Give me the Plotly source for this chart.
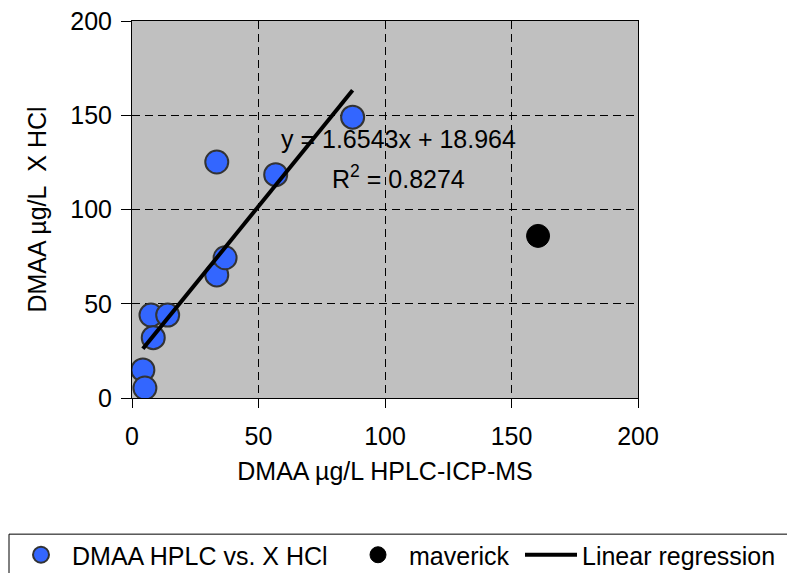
import plotly.graph_objects as go

# DMAA measured by HPLC-ICP-MS vs. X HCl method (µg/L)
hplc_x = [4.3, 5.1, 7.5, 14.1, 8.4, 33.5, 36.8, 33.5, 56.8, 87.2]
hcl_y = [14.9, 5.3, 44.0, 44.0, 32.0, 65.3, 74.4, 125.2, 118.5, 149.0]

# Outlier excluded from the fit
maverick_x = [160.5]
maverick_y = [86.0]

# Linear regression of the main series
slope = 1.6543
intercept = 18.964
r_squared = 0.8274

x_ticks = [0, 50, 100, 150, 200]
y_ticks = [0, 50, 100, 150, 200]

FONT = "Liberation Sans, Arial, sans-serif"
FS = 25

fit_x = [min(hplc_x), max(hplc_x)]
fit_y = [slope * v + intercept for v in fit_x]

fig = go.Figure()

fig.add_trace(go.Scatter(
    x=hplc_x, y=hcl_y, mode="markers", name="DMAA HPLC vs. X HCl",
    marker=dict(size=23, color="#3366FF", line=dict(color="#333333", width=2)),
    legend="legend",
))
fig.add_trace(go.Scatter(
    x=maverick_x, y=maverick_y, mode="markers", name="maverick",
    marker=dict(size=23, color="black", line=dict(color="black", width=1)),
    legend="legend2",
))
# fitted line drawn over the markers
fig.add_trace(go.Scatter(
    x=fit_x, y=fit_y, mode="lines", name="Linear regression",
    line=dict(color="black", width=4), legend="legend3",
))

# regression equation
fig.add_annotation(
    x=105.2, y=137.2, xref="x", yref="y", showarrow=False,
    text=f"y = {slope}x + {intercept}",
    font=dict(family=FONT, size=FS, color="black"),
)
fig.add_annotation(
    x=105.2, y=117.5, xref="x", yref="y", showarrow=False,
    text=f"R<sup>2</sup> = {r_squared}",
    font=dict(family=FONT, size=FS, color="black"),
)

# legend frame
fig.add_shape(
    type="rect", xref="paper", yref="paper",
    x0=(9 - 132) / 506, x1=(800 - 132) / 506,
    y0=(398 - 534) / 376.6, y1=(398 - 600) / 376.6,
    line=dict(color="black", width=1), fillcolor="white", layer="below",
)

axis_common = dict(
    showline=True, linecolor="black", linewidth=1, mirror=True,
    showgrid=True, gridcolor="black", gridwidth=1, griddash="8px,5px",
    ticks="outside", tickcolor="black",
    tickfont=dict(family=FONT, size=FS, color="black"),
    zeroline=False, automargin=False,
)

legend_common = dict(
    orientation="h", xref="container", yref="container",
    xanchor="left", yanchor="middle", y=1 - 555 / 573,
    bgcolor="rgba(0,0,0,0)", borderwidth=0, itemwidth=52,
    font=dict(family=FONT, size=FS, color="black"),
)

fig.update_layout(
    width=787, height=573,
    margin=dict(l=132, r=149, t=21, b=175, autoexpand=False),
    paper_bgcolor="white", plot_bgcolor="#C0C0C0",
    font=dict(family=FONT, size=FS, color="black"),
    xaxis=dict(range=[0, 200], tickvals=x_ticks, ticklen=9, ticklabelstandoff=7,
               title=dict(text="DMAA µg/L HPLC-ICP-MS", font=dict(size=FS), standoff=13),
               **axis_common),
    yaxis=dict(range=[0, 200], tickvals=y_ticks, ticklen=10, ticklabelstandoff=4,
               title=dict(text="DMAA µg/L\u00a0 X HCl", font=dict(size=FS), standoff=16),
               **axis_common),
    legend=dict(x=10 / 787, **legend_common),
    legend2=dict(x=347 / 787, **legend_common),
    legend3=dict(x=520 / 787, **legend_common),
    showlegend=True,
)

fig.write_html("out.html")
